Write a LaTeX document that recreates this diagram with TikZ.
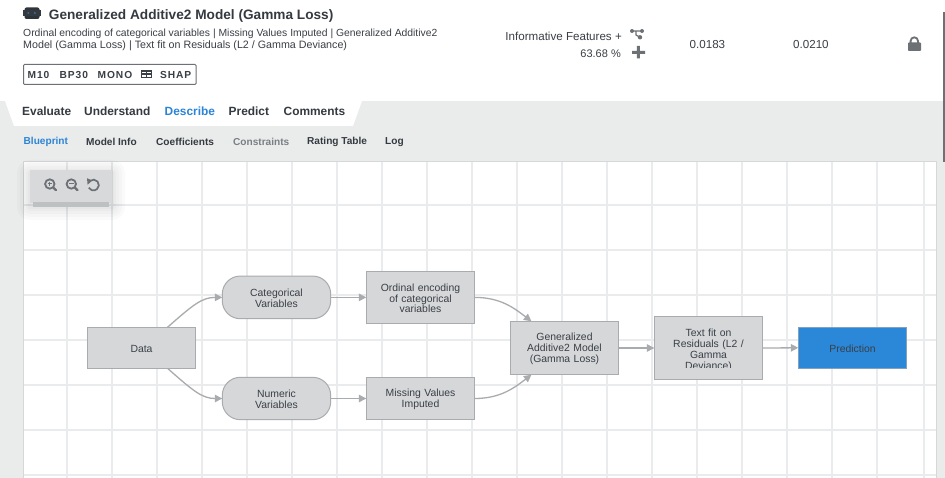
\documentclass[tikz,border=0pt]{standalone}
\usepackage{fontspec}
\setmainfont{Liberation Sans}
\newfontfamily\spacedbold[LetterSpace=9,BoldFont={Liberation Sans Bold}]{Liberation Sans}
\usetikzlibrary{arrows.meta,calc}
\definecolor{bandgray}{HTML}{EAECEC}
\definecolor{gridgray}{HTML}{E9EBEC}
\definecolor{boxfill}{HTML}{D5D7D9}
\definecolor{boxline}{HTML}{A9ACAE}
\definecolor{inktext}{HTML}{3A3F45}
\definecolor{titleink}{HTML}{343A40}
\definecolor{tabblue}{HTML}{2B84D6}
\definecolor{predblue}{HTML}{2B88D8}
\definecolor{icongray}{HTML}{6D7175}
\definecolor{mutedtext}{HTML}{7B7F83}
\tikzset{
  flowbox/.style={draw=boxline,fill=boxfill,line width=1pt,minimum width=108.4pt,inner sep=0pt,outer sep=0pt,text=inktext,align=center,font=\fontsize{10.4}{10.8}\selectfont,text width=92pt,execute at begin node={\rule{0pt}{9.6pt}}},
  pillbox/.style={flowbox,rounded corners=18pt},
  predbox/.style={flowbox,fill=predblue,draw=boxline!70!predblue},
  flowarrow/.style={draw=boxline,line width=1.3pt,-{Triangle[length=7.5pt,width=7.5pt,fill=boxline]}},
  gridline/.style={draw=gridgray,line width=1.5pt},
  tabtext/.style={anchor=west,inner sep=0pt,text=titleink,font=\fontsize{11.9}{14}\selectfont\bfseries},
  subtab/.style={anchor=west,inner sep=0pt,text=titleink,font=\fontsize{10.1}{12}\selectfont\bfseries},
  infotext/.style={inner sep=0pt,text=inktext,font=\fontsize{11.6}{13}\selectfont},
  desctext/.style={anchor=west,inner sep=0pt,text=inktext},
  badgetext/.style={anchor=west,inner sep=0pt,text=inktext,font=\fontsize{10.2}{11}\spacedbold\bfseries},
  iconline/.style={draw=icongray,line width=1.8pt,line cap=round}
}
\begin{document}
\begin{tikzpicture}[x=1pt,y=-1pt]
\useasboundingbox (0,0) rectangle (945,478);
\fill[white] (0,0) rectangle (945,478);
% page bands
\fill[bandgray] (0,101) rectangle (945,162);
\fill[bandgray] (0,162) rectangle (23.5,478);
\fill[bandgray] (936,162) rectangle (945,478);
\fill[white] (5,101) -- (14,126) -- (353,126) -- (362,101) -- cycle;
\fill[icongray] (943,12) rectangle (945,162);
% canvas grid
\foreach \gx in {67,112,...,877,924} \draw[gridline] (\gx,162) -- (\gx,478);
\foreach \gy in {205,250,...,475} \draw[gridline] (23.5,\gy) -- (936,\gy);
\draw[draw=boxfill,line width=1pt] (23.5,478) -- (23.5,162) -- (936,162) -- (936,478);
% header
\fill[rounded corners=2pt,titleink!90!black] (24.5,7.5) rectangle (39.5,19);
\fill[titleink] (23.2,10.5) rectangle (41,16);
\fill[tabblue] (27.7,12.4) rectangle (29,13.6) (34.2,12.4) rectangle (35.5,13.6);
\node[anchor=west,inner sep=0pt,text=titleink,font=\fontsize{13.65}{16}\selectfont\bfseries] (title) at (48.7,16.2) {Generalized Additive2 Model (Gamma Loss)};
\node[desctext,font=\fontsize{10.35}{12}\selectfont] (descA) at (23,34.3) {Ordinal encoding of categorical variables | Missing Values Imputed | Generalized Additive2};
\node[desctext,font=\fontsize{10.7}{12}\selectfont] (descB) at (23,46) {Model (Gamma Loss) | Text fit on Residuals (L2 / Gamma Deviance)};
\draw[draw=icongray,line width=1pt,rounded corners=1pt] (23.5,64.5) rectangle (196,84.5);
\node[badgetext] (bM) at (27.5,74.5) {M10};
\node[badgetext] (bB) at (59.5,74.5) {BP30};
\node[badgetext] (bO) at (97.5,74.5) {MONO};
\draw[draw=inktext,line width=1pt] (141.5,70.5) rectangle (151.5,78);
\draw[draw=inktext,line width=1.1pt] (141.5,74) -- (151.5,74) (146.5,70.5) -- (146.5,78);
\fill[inktext] (141.5,70.5) rectangle (151.5,72.5);
\node[badgetext] (bS) at (160,74.5) {SHAP};
\node[infotext,anchor=east] (infoA) at (622,36) {Informative Features +};
\node[infotext,anchor=east,font=\fontsize{11}{13}\selectfont] (infoB) at (621,53.7) {63.68 \%};
\node[infotext,anchor=west] (valA) at (689.5,45) {0.0183};
\node[infotext,anchor=west] (valB) at (793,45) {0.0210};
% share icon
\draw[draw=icongray,line width=1.2pt] (632,31) -- (642,31) (636,31) -- (636,35) -- (640,37.3);
\fill[icongray] (632,31) circle (2pt) (642,31) circle (2pt) (640,37.3) circle (2.2pt);
% plus icon
\fill[icongray] (632,50.8) rectangle (645,53.8) (636.9,46) rectangle (639.9,58.5);
% lock icon
\draw[draw=icongray,line width=1.8pt] (910.6,43) -- (910.6,41) arc[start angle=180,end angle=0,radius=3.7pt] -- (918,43);
\fill[icongray,rounded corners=0.8pt] (908,42.5) rectangle (921,51);
% tabs
\node[tabtext] (tEval) at (22,111.7) {Evaluate};
\node[tabtext] (tUnd) at (84,111.7) {Understand};
\node[tabtext,text=tabblue] (tDesc) at (164.5,111.7) {Describe};
\node[tabtext] (tPred) at (228.5,111.7) {Predict};
\node[tabtext] (tComm) at (283.5,111.7) {Comments};
\node[subtab,text=tabblue] (sBlue) at (23.5,142) {Blueprint};
\node[subtab] (sInfo) at (86,142) {Model Info};
\node[subtab] (sCoef) at (156,142) {Coefficients};
\node[subtab,text=mutedtext] (sCons) at (233,142) {Constraints};
\node[subtab] (sRate) at (307,142) {Rating Table};
\node[subtab] (sLog) at (385,142) {Log};
% zoom toolbar
\foreach \sh in {13,10,7,4,2}
  \fill[black,opacity=0.02,rounded corners=\sh pt] (30-\sh,170-\sh+3) rectangle (112+\sh,207+\sh);
\fill[boxfill!95!white] (30,170) rectangle (112,203);
\fill[boxline!75!white] (33,202.5) rectangle (109,207);
\draw[draw=icongray,line width=1.8pt] (49.8,184) circle (4.7pt);
\draw[draw=icongray,line width=2.2pt,line cap=round] (53.4,187.6) -- (56,190.2);
\draw[draw=icongray,line width=1pt] (47.5,184) -- (52.1,184) (49.8,181.7) -- (49.8,186.3);
\draw[draw=icongray,line width=1.8pt] (71.3,184) circle (4.7pt);
\draw[draw=icongray,line width=2.2pt,line cap=round] (74.9,187.6) -- (77.5,190.2);
\draw[draw=icongray,line width=1pt] (69,184) -- (73.6,184);
\draw[draw=icongray,line width=1.7pt] (90,180.9) arc[start angle=130,end angle=-150,radius=5.4pt];
\fill[icongray] (87,178.2) -- (92.2,180.5) -- (87.6,184.8) -- cycle;
% flow nodes
\node[flowbox,minimum height=41pt] (data) at (141.5,347.8) {Data};
\node[pillbox,minimum height=42.7pt] (cat) at (276.5,297.4) {Categorical\\Variables};
\node[pillbox,minimum height=42.4pt] (num) at (276.5,398.5) {Numeric\\Variables};
\node[flowbox,minimum height=52.7pt] (ord) at (420.5,297.4) {Ordinal encoding\\of categorical\\variables};
\node[flowbox,minimum height=42.4pt] (miss) at (420.5,398.5) {Missing Values\\Imputed};
\node[flowbox,minimum height=53.4pt] (gam) at (564.5,348) {Generalized\\Additive2 Model\\(Gamma Loss)};
\node[flowbox,minimum height=63.4pt] (fit) at (708.5,348) {};
\begin{scope}
  \clip (655,317) rectangle (762,367.6);
  \node[inner sep=0pt,text=inktext,align=center,anchor=north,font=\fontsize{10.4}{11}\selectfont,text width=92pt] (fitlabel) at (708.5,328.8) {Text fit on\\Residuals (L2 /\\Gamma\\Deviance)};
\end{scope}
\node[predbox,minimum height=41pt] (pred) at (852.5,347.8) {Prediction};
% connectors
\draw[flowarrow] ($(data.north west)!0.74!(data.north east)$) .. controls +(26,-23) and +(-20,0) .. (cat.west);
\draw[flowarrow] ($(data.south west)!0.74!(data.south east)$) .. controls +(26,23) and +(-20,0) .. (num.west);
\draw[flowarrow] (cat.east) -- (ord.west);
\draw[flowarrow] (num.east) -- (miss.west);
\draw[flowarrow] (ord.east) .. controls +(26,0) and +(-17,-13) .. ($(gam.north west)!0.195!(gam.north east)$);
\draw[flowarrow] (miss.east) .. controls +(26,0) and +(-17,13) .. ($(gam.south west)!0.195!(gam.south east)$);
\draw[flowarrow] (gam.east) -- (fit.west);
\draw[flowarrow] (fit.east) -- (pred.west);
\end{tikzpicture}
\end{document}
